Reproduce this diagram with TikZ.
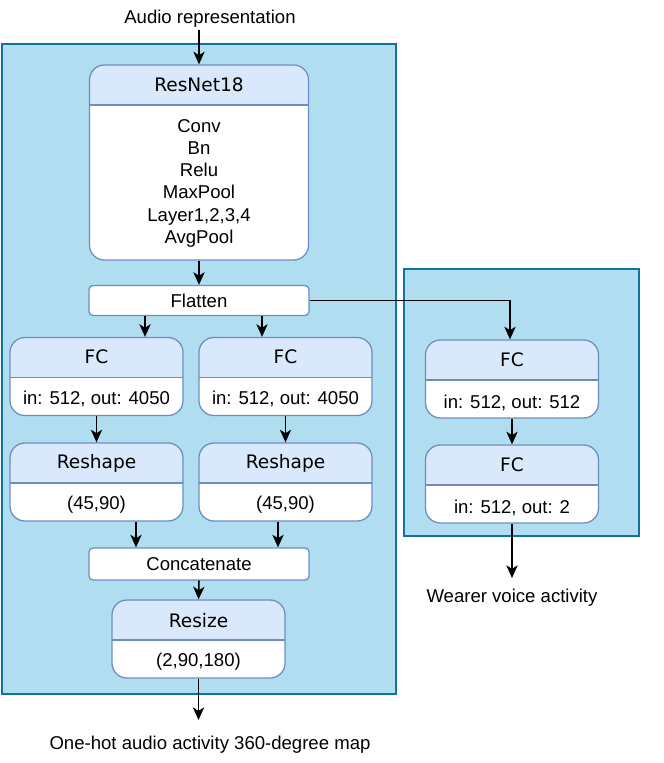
\documentclass[tikz,border=0pt]{standalone}
\usepackage{fontspec}
\setmainfont{Liberation Sans}
\newfontfamily\hdrfont{DejaVu Sans}
\usetikzlibrary{arrows.meta}
\definecolor{panelfill}{HTML}{B1DDF0}
\definecolor{panelline}{HTML}{10739E}
\definecolor{hdrfill}{HTML}{DAE8FC}
\definecolor{hdrline}{HTML}{6C8EBF}
\tikzset{
  panel/.style={fill=panelfill, draw=panelline, line width=1pt},
  layer/.style={draw=hdrline, fill=white, line width=0.9pt, rounded corners=0.375cm,
    minimum width=4.325cm, minimum height=1.95cm, inner sep=0pt,
    path picture={
      \fill[hdrfill,sharp corners] (path picture bounding box.north west) rectangle ([yshift=-1cm]path picture bounding box.north east);
      \draw[hdrline,line width=0.9pt,sharp corners] ([yshift=-1cm]path picture bounding box.north west) -- ([yshift=-1cm]path picture bounding box.north east);}},
  opbox/.style={draw=hdrline, fill=white, line width=0.9pt, rounded corners=0.1cm,
    minimum width=5.5cm, minimum height=0.75cm, inner sep=0pt},
  hdrtext/.style={font=\hdrfont\fontsize{13.2}{15.65}\selectfont, inner sep=0pt},
  bodytext/.style={inner sep=0pt, align=center},
  arr/.style={-{Stealth[length=9pt,width=8pt,inset=2.5pt]}, line width=1.1pt},
}

\begin{document}
\begin{tikzpicture}[x=0.025cm,y=-0.025cm,font=\fontsize{13.2}{15.65}\selectfont]
\useasboundingbox (0,0) rectangle (664,763);
\filldraw[panel] (2,44) rectangle (396,694);
\filldraw[panel] (404,269) rectangle (639,536);

\node[bodytext] (audio) at (210,19) {Audio representation};
\coordinate (audioin) at (199,30);

\node[layer, minimum width=5.475cm, minimum height=4.875cm] (resnet) at (199,162.5) {};
\node[hdrtext] (resnet-t) at ([yshift=-0.52cm]resnet.north) {ResNet18};
\node[bodytext] (resnet-b) at ([yshift=1.93cm]resnet.south) {Conv\\Bn\\Relu\\MaxPool\\Layer1,2,3,4\\AvgPool};

\node[opbox] (flatten) at (199,300.5) {Flatten};

\node[layer] (fc1) at (96.5,376.5) {};
\node[hdrtext] (fc1-t) at ([yshift=-0.5cm]fc1.north) {FC};
\node[bodytext] (fc1-b) at ([yshift=0.42cm]fc1.south) {in: 512, out: 4050};
\node[layer] (fc2) at (285.5,376.5) {};
\node[hdrtext] (fc2-t) at ([yshift=-0.5cm]fc2.north) {FC};
\node[bodytext] (fc2-b) at ([yshift=0.42cm]fc2.south) {in: 512, out: 4050};

\node[layer] (reshape1) at (96.5,482) {};
\node[hdrtext] (reshape1-t) at ([yshift=-0.52cm]reshape1.north) {Reshape};
\node[bodytext] (reshape1-b) at ([yshift=0.42cm]reshape1.south) {(45,90)};
\node[layer] (reshape2) at (285.5,482) {};
\node[hdrtext] (reshape2-t) at ([yshift=-0.52cm]reshape2.north) {Reshape};
\node[bodytext] (reshape2-b) at ([yshift=0.42cm]reshape2.south) {(45,90)};

\node[opbox, minimum height=0.8cm] (concat) at (199,564) {Concatenate};

\node[layer] (resize) at (198.5,639) {};
\node[hdrtext] (resize-t) at ([yshift=-0.52cm]resize.north) {Resize};
\node[bodytext] (resize-b) at ([yshift=0.42cm]resize.south) {(2,90,180)};

\coordinate (mapout) at (198.5,720);
\node[bodytext] (map) at (210,745) {One-hot audio activity 360-degree map};

\node[layer] (fc3) at (512,379) {};
\node[hdrtext] (fc3-t) at ([yshift=-0.5cm]fc3.north) {FC};
\node[bodytext] (fc3-b) at ([yshift=0.38cm]fc3.south) {in: 512, out: 512};
\node[layer] (fc4) at (512,484) {};
\node[hdrtext] (fc4-t) at ([yshift=-0.5cm]fc4.north) {FC};
\node[bodytext] (fc4-b) at ([yshift=0.4cm]fc4.south) {in: 512, out: 2};

\coordinate (voiceout) at (512,578);
\node[bodytext] (voice) at (512,598) {Wearer voice activity};

\draw[arr] (audioin) -- (resnet.north);
\draw[arr] (resnet.south) -- (flatten.north);
\draw[arr] (flatten.south -| 145,0) -- (fc1.north -| 145,0);
\draw[arr] (flatten.south -| 262,0) -- (fc2.north -| 262,0);
\draw[arr] (fc1.south) -- (reshape1.north);
\draw[arr] (fc2.south) -- (reshape2.north);
\draw[arr] (reshape1.south -| 136,0) -- (concat.north -| 136,0);
\draw[arr] (reshape2.south -| 278,0) -- (concat.north -| 278,0);
\draw[arr] (concat.south) -- (resize.north);
\draw[arr] (resize.south) -- (mapout);
\draw[arr] (flatten.east) -| ([xshift=-0.05cm]fc3.north);
\draw[arr] (fc3.south) -- (fc4.north);
\draw[arr] (fc4.south) -- (voiceout);
\end{tikzpicture}
\end{document}
